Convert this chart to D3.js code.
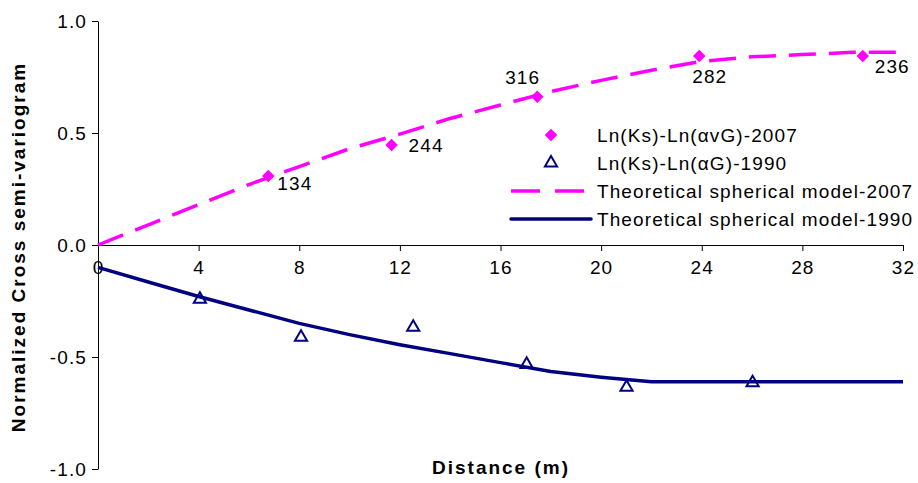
<!DOCTYPE html>
<html><head><meta charset="utf-8">
<script src="https://cdn.jsdelivr.net/npm/d3@7"></script>
<style>
body{margin:0;background:#fff;}
text{font-family:"Liberation Sans",Arial,sans-serif;fill:#000;}
</style></head>
<body><svg id="c" width="918" height="483"></svg>
<script>
// ---- data ----
const xTicks = [0,4,8,12,16,20,24,28,32];
const yTicks = [-1.0,-0.5,0.0,0.5,1.0];
const pts2007X = [6.77, 11.67, 17.46, 23.9, 30.4];
const pts2007Y = [0.308, 0.446, 0.662, 0.844, 0.844];
const pts2007Labels = ["134","244","316","282","236"];
const labelPlacement = ["belowRight","right","aboveLeft","below","belowRightFar"];
const pts1990X = [4.05, 8.07, 12.53, 17.04, 21.01, 26.02];
const pts1990Y = [-0.242, -0.412, -0.367, -0.533, -0.635, -0.615];
const model2007X = [0,2,4,6,8,10,12,14,16,18,20,22,24,26,28,30,32];
const model2007Y = [0,0.09,0.18,0.27,0.35,0.43,0.495,0.565,0.625,0.685,0.735,0.78,0.82,0.84,0.85,0.86,0.86];
const model1990X = [0,2,4,6,8,10,12,14,16,18,20,22,24,26,28,30,32];
const model1990Y = [-0.10,-0.165,-0.23,-0.29,-0.35,-0.40,-0.445,-0.485,-0.525,-0.565,-0.59,-0.61,-0.61,-0.61,-0.61,-0.61,-0.61];
const legendItems = ["Ln(Ks)-Ln(αvG)-2007","Ln(Ks)-Ln(αG)-1990","Theoretical spherical model-2007","Theoretical spherical model-1990"];

const PINK="#FF00FF", NAVY="#000080";
const svg=d3.select("#c");
const x=d3.scaleLinear().domain([0,32]).range([98,903]);
const y=d3.scaleLinear().domain([-1,1]).range([469,21]);
const fs=19, ls=1.1;

// y axis
const yAxis=svg.append("g").attr("transform","translate(98,0)")
  .call(d3.axisLeft(y).tickValues(yTicks).tickFormat(d=>d3.format(".1f")(d).replace("−","-")).tickSize(6).tickSizeOuter(0));
yAxis.select(".domain").attr("stroke","#000");
yAxis.selectAll("text").attr("font-size",fs).attr("letter-spacing",ls).attr("font-family","Liberation Sans, Arial, sans-serif").attr("dx",-2);
// x axis at y=0
const xAxis=svg.append("g").attr("transform",`translate(0,${y(0)})`)
  .call(d3.axisBottom(x).tickValues(xTicks).tickSize(6).tickSizeOuter(0));
xAxis.select(".domain").attr("stroke","#000");
xAxis.selectAll("text").attr("font-size",fs).attr("letter-spacing",ls).attr("font-family","Liberation Sans, Arial, sans-serif").attr("dy","1.05em");

// axis titles
svg.append("text").attr("x",501).attr("y",474).attr("text-anchor","middle")
  .attr("font-weight","bold").attr("font-size",fs).attr("letter-spacing",2).text("Distance (m)");
svg.append("text").attr("transform","translate(25,247) rotate(-90)").attr("text-anchor","middle")
  .attr("font-weight","bold").attr("font-size",fs).attr("letter-spacing",2).text("Normalized Cross semi-variogram");

// lines
const line=d3.line().x(d=>x(d[0])).y(d=>y(d[1]));
svg.append("path").datum(model1990X.map((v,i)=>[v,model1990Y[i]]))
  .attr("d",line).attr("fill","none").attr("stroke",NAVY).attr("stroke-width",3.5).attr("stroke-linejoin","round");
svg.append("path").datum(model2007X.map((v,i)=>[v,model2007Y[i]]))
  .attr("d",line).attr("fill","none").attr("stroke",PINK).attr("stroke-width",3.5).attr("stroke-dasharray","27,13");

// markers
const diamond=d3.symbol().type(d3.symbolDiamond2).size(100);
svg.selectAll(".d").data(pts2007X.map((v,i)=>[v,pts2007Y[i]])).enter().append("path")
  .attr("transform",d=>`translate(${x(d[0])},${y(d[1])})`).attr("d",diamond).attr("fill",PINK);
const tri=d3.symbol().type(d3.symbolTriangle).size(64);
svg.selectAll(".t").data(pts1990X.map((v,i)=>[v,pts1990Y[i]])).enter().append("path")
  .attr("transform",d=>`translate(${x(d[0])},${y(d[1])})`).attr("d",tri).attr("fill","none").attr("stroke",NAVY).attr("stroke-width",2);

// data labels
const off={belowRight:[9,14,"start"],right:[17,7,"start"],aboveLeft:[3,-13,"end"],below:[-7,27,"start"],belowRightFar:[12,17,"start"]};
pts2007Labels.forEach((t,i)=>{
  const o=off[labelPlacement[i]];
  svg.append("text").attr("x",x(pts2007X[i])+o[0]).attr("y",y(pts2007Y[i])+o[1])
    .attr("text-anchor",o[2]).attr("font-size",fs).attr("letter-spacing",ls).text(t);
});

// legend
const lg=svg.append("g");
const rows=[135,163,191,219];
lg.append("path").attr("transform",`translate(551,${rows[0]})`).attr("d",diamond).attr("fill",PINK);
lg.append("path").attr("transform",`translate(551,${rows[1]})`).attr("d",tri).attr("fill","none").attr("stroke",NAVY).attr("stroke-width",2);
lg.append("line").attr("x1",511).attr("x2",584).attr("y1",rows[2]).attr("y2",rows[2]).attr("stroke",PINK).attr("stroke-width",3.5).attr("stroke-dasharray","29,15");
lg.append("line").attr("x1",511).attr("x2",591).attr("y1",rows[3]).attr("y2",rows[3]).attr("stroke",NAVY).attr("stroke-width",3.5).attr("stroke-linecap","round");
legendItems.forEach((t,i)=>{
  lg.append("text").attr("x",597).attr("y",rows[i]+7).attr("font-size",fs).attr("letter-spacing",ls).text(t);
});
</script></body></html>
